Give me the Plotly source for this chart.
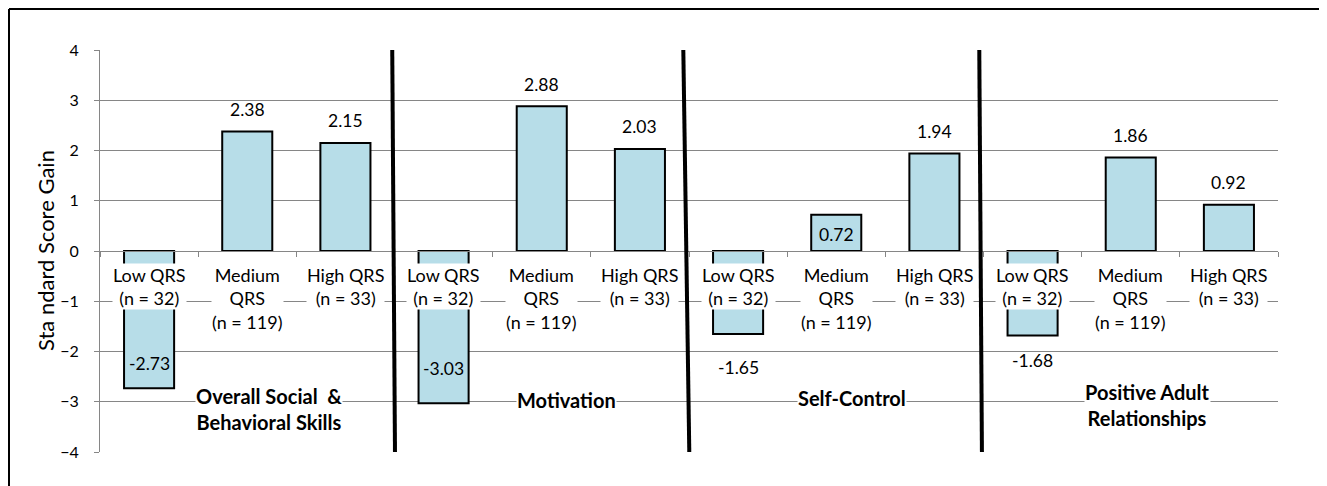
import plotly.graph_objects as go

# ---------------- data ----------------
groups = ["Overall Social  &<br>Behavioral Skills", "Motivation", "Self-Control",
          "Positive Adult<br>Relationships"]
qrs_levels = ["Low QRS<br>(n = 32)", "Medium<br>QRS<br>(n = 119)", "High QRS<br>(n = 33)"]
overall = [-2.73, 2.38, 2.15]
motivation = [-3.03, 2.88, 2.03]
self_control = [-1.65, 0.72, 1.94]
adult_rel = [-1.68, 1.86, 0.92]
y_ticks = [-4, -3, -2, -1, 0, 1, 2, 3, 4]

# ---------------- layout constants ----------------
# the page body adds an 8px offset, so the figure is 8px smaller and margins shifted
OFF = 8
W, H = 1327 - OFF, 486 - OFF
ML, MR, MT, MB = 100 - OFF, 49, 50 - OFF, 34
PW, PH = W - ML - MR, H - MT - MB

values = overall + motivation + self_control + adult_rel
xpos = list(range(len(values)))
cat_labels = qrs_levels * len(groups)

# pixel offsets of data labels (relative to bar end)
label_shift = [25, 22, 22, 35, 22, 22, -34, -20, 22, -25, 22, 22]
# group title offsets (pixels, screen coordinates)
title_xshift = [22, 25, 16, 17]
title_ypix = [409, 400, 398, 405]
# divider lines (top x, bottom x) in category units
dividers = [(2.477, 2.505), (5.442, 5.503), (8.457, 8.484)]

FONT = "Lato"
BAR_COLOR = "#B7DDE8"
GRID = "#868686"

fig = go.Figure()
fig.add_trace(go.Bar(
    x=xpos, y=values,
    marker=dict(color=BAR_COLOR, line=dict(color="black", width=2)),
    width=0.51, hoverinfo="skip",
))

annotations = []
# data labels
for x, v, s in zip(xpos, values, label_shift):
    annotations.append(dict(
        x=x, y=v, xref="x", yref="y", text=f"{v:.2f}", showarrow=False,
        yanchor="middle", yshift=s, font=dict(family=FONT, size=17.5, color="black"),
    ))
# category labels
for x, t in zip(xpos, cat_labels):
    annotations.append(dict(
        x=x, y=0, xref="x", yref="y", text=t, showarrow=False,
        yanchor="top", yshift=-12, bgcolor="white", borderpad=0,
        font=dict(family=FONT, size=18, color="black"),
    ))
# group titles
ppu = PH / (y_ticks[-1] - y_ticks[0])
zero_pix = OFF + MT + PH / 2
for gi, g in enumerate(groups):
    yc = (zero_pix - title_ypix[gi]) / ppu
    annotations.append(dict(
        x=gi * 3 + 1, y=yc, xref="x", yref="y", text=f"<b>{g}</b>", showarrow=False,
        xshift=title_xshift[gi], yanchor="middle", bgcolor="white", borderpad=0,
        font=dict(family=FONT, size=20, color="black"),
    ))
# y-axis title
annotations.append(dict(
    x=(45 - OFF - ML) / PW, y=0.5, xref="paper", yref="paper", text="Sta ndard Score Gain",
    textangle=-90, showarrow=False, xanchor="center", yanchor="middle",
    font=dict(family=FONT, size=22, color="black"),
))

shapes = []
for x0, x1 in dividers:
    shapes.append(dict(type="line", xref="x", yref="y", x0=x0, x1=x1,
                       y0=y_ticks[-1], y1=y_ticks[0],
                       line=dict(color="black", width=4), layer="above"))
# outer border (top and left visible), 1px inside the figure edge
bx = (1 - ML) / PW
by = 1 + (MT - 1) / PH
shapes.append(dict(type="line", xref="paper", yref="paper", x0=bx, x1=1.2, y0=by, y1=by,
                   line=dict(color="black", width=2)))
shapes.append(dict(type="line", xref="paper", yref="paper", x0=bx, x1=bx, y0=by, y1=-0.3,
                   line=dict(color="black", width=2)))

boundaries = [i - 0.5 for i in range(len(values) + 1)]

fig.update_layout(
    width=W, height=H,
    margin=dict(l=ML, r=MR, t=MT, b=MB),
    paper_bgcolor="white", plot_bgcolor="white",
    showlegend=False,
    bargap=0.49,
    annotations=annotations,
    shapes=shapes,
    xaxis=dict(
        range=[-0.5, len(values) - 0.5], showgrid=False, zeroline=False,
        showline=True, linecolor=GRID, linewidth=1,
        anchor="free", position=0.5,
        ticks="outside", tickvals=boundaries, ticklen=5, tickcolor=GRID,
        showticklabels=False, fixedrange=True,
    ),
    yaxis=dict(
        range=[y_ticks[0], y_ticks[-1]], tickvals=y_ticks, showgrid=True,
        gridcolor=GRID, gridwidth=1, zeroline=False,
        showline=True, linecolor=GRID, linewidth=1,
        ticks="outside", ticklen=5, tickcolor=GRID,
        tickfont=dict(family=FONT, size=16, color="black"),
        ticklabelstandoff=12, domain=[0, 1], fixedrange=True,
    ),
)

fig.write_html("out.html")
